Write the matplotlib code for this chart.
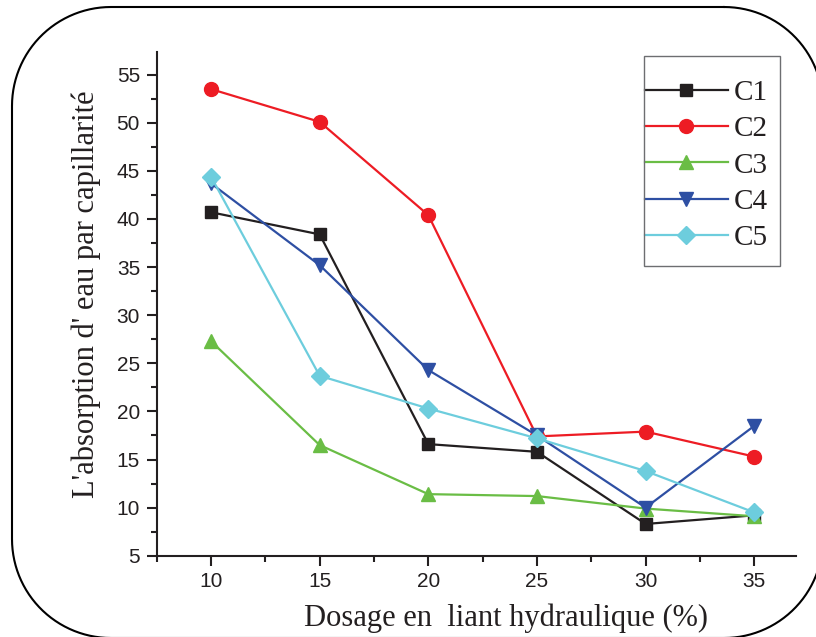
import matplotlib
matplotlib.use("Agg")
import matplotlib.pyplot as plt
import numpy as np
from matplotlib.patches import Rectangle
from matplotlib.lines import Line2D
from matplotlib.ticker import MultipleLocator

# dosage (%)
x = [10, 15, 20, 25, 30, 35]

c1 = [40.7, 38.4, 16.6, 15.8, 8.3, 9.2]
c2 = [53.5, 50.1, 40.4, 17.4, 17.9, 15.3]
c3 = [27.3, 16.5, 11.4, 11.2, 9.9, 9.1]
c4 = [43.7, 35.2, 24.3, 17.5, 10.0, 18.5]
c5 = [44.4, 23.7, 20.3, 17.2, 13.8, 9.5]

labels = ['C1', 'C2', 'C3', 'C4', 'C5']
colors = ['#231f20', '#ed1c24', '#6abd45', '#2e4fa3', '#6dcddd']
markers = ['s', 'o', '^', 'v', 'D']
msizes = [8, 10, 10, 10, 9]

W, H = 816, 637
fig = plt.figure(figsize=(W / 100, H / 100), dpi=100)
ax = fig.add_axes([0.192, 0.1276, 0.783, 0.7914])

for ys, lab, col, mk, ms in zip([c1, c2, c3, c4, c5], labels, colors, markers, msizes):
    ax.plot(x, ys, color=col, marker=mk, markersize=ms, linewidth=1.6, label=lab)

ax.set_xlim(7.5, 36.9)
ax.set_ylim(5, 57.4)
ax.xaxis.set_major_locator(MultipleLocator(5))
ax.xaxis.set_minor_locator(MultipleLocator(2.5))
ax.yaxis.set_major_locator(MultipleLocator(5))
ax.yaxis.set_minor_locator(MultipleLocator(2.5))

for s in ['top', 'right']:
    ax.spines[s].set_visible(False)
for s in ['left', 'bottom']:
    ax.spines[s].set_linewidth(1.5)
    ax.spines[s].set_color('#231f20')

ax.tick_params(which='major', length=7, width=1.5, labelsize=15, color='#231f20',
               labelcolor='#231f20', pad=5)
ax.tick_params(which='minor', length=4, width=1.5, color='#231f20')
for t in ax.get_xticklabels() + ax.get_yticklabels():
    t.set_fontfamily('Liberation Sans')

ax.set_xlabel('Dosage en  liant hydraulique (%)', fontfamily='Liberation Serif',
              fontsize=22, color='#231f20')
ax.set_ylabel("L'absorption d' eau par capillarité", fontfamily='Liberation Serif',
              fontsize=22, color='#231f20')
ax.xaxis.set_label_coords(0.546, -0.094)
ax.yaxis.set_label_coords(-0.087, 0.518)

# legend entries without frame, frame drawn separately
leg = ax.legend(loc='upper left', bbox_to_anchor=(630 / W, 1 - 65 / H),
                bbox_transform=fig.transFigure,
                prop={'family': 'Liberation Serif', 'size': 21},
                frameon=False, handlelength=2.85, handletextpad=0.2,
                labelspacing=0.34, borderpad=0)
for txt in leg.get_texts():
    txt.set_color('#231f20')
fig.patches.append(Rectangle((644 / W, 1 - 266 / H), 136 / W, 210 / H,
                             transform=fig.transFigure, facecolor='none',
                             edgecolor='#6d6e71', linewidth=1.0))

# rounded frame around the figure (pixel coords, y down)
left, right, top, bottom, r = 12, 823, 7, 638, 99
t = np.linspace(0, np.pi / 2, 30)
px, py = [], []
for cx, cy, a0 in [(right - r, top + r, -np.pi / 2), (right - r, bottom - r, 0),
                   (left + r, bottom - r, np.pi / 2), (left + r, top + r, np.pi)]:
    px += list(cx + r * np.cos(a0 + t))
    py += list(cy + r * np.sin(a0 + t))
px.append(px[0])
py.append(py[0])
fig.add_artist(Line2D(np.array(px) / W, 1 - np.array(py) / H, transform=fig.transFigure,
                      color='black', linewidth=1.5, clip_on=False))

fig.savefig('out.png', dpi=100)
